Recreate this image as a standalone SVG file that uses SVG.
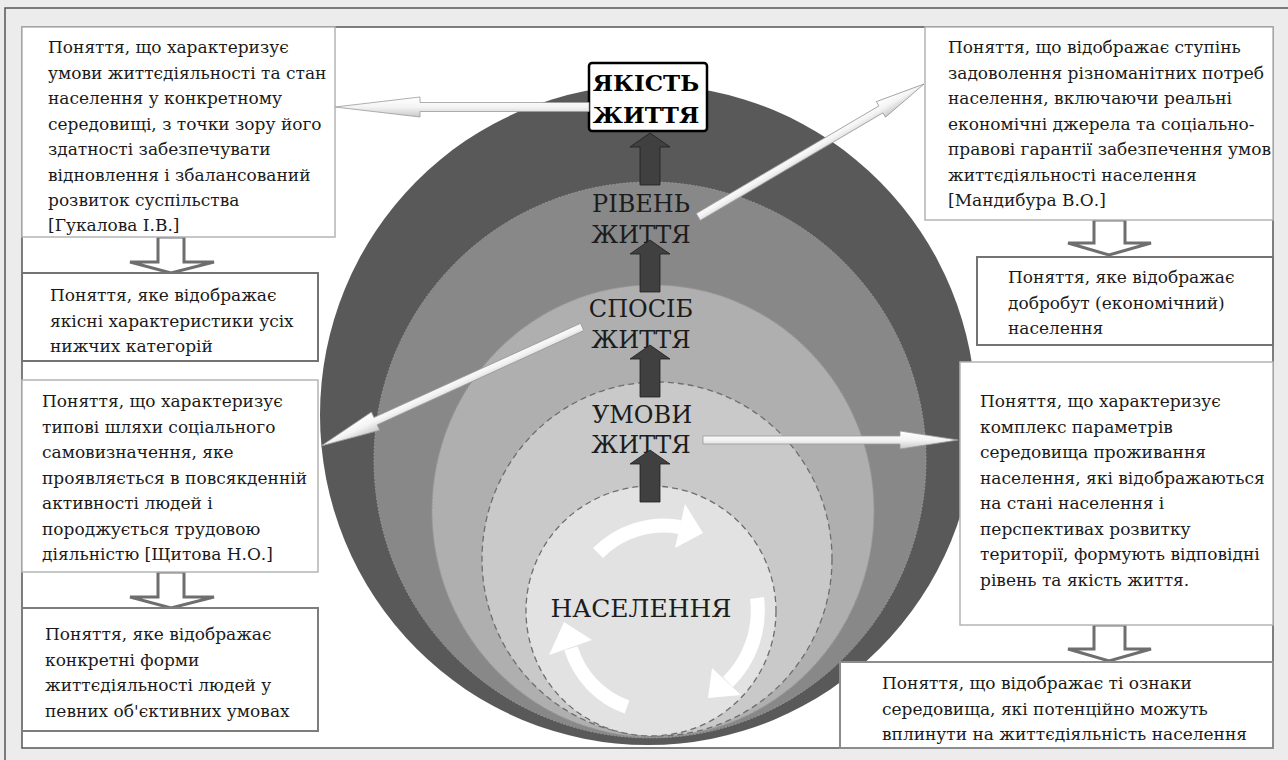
<svg xmlns="http://www.w3.org/2000/svg" width="1288" height="760" viewBox="0 0 1288 760">
<style>
.t{font-family:"DejaVu Serif","Liberation Serif",serif;font-size:17px;fill:#1a1a1a}
.lbl{font-family:"DejaVu Serif","Liberation Serif",serif;font-size:24px;fill:#1c1c1c;text-anchor:middle}
.boxL{fill:#fff;stroke:#b4b4b4;stroke-width:1.5}
.boxD{fill:#fff;stroke:#737373;stroke-width:2}
.down{fill:#fff;stroke:#6e6e6e;stroke-width:3;stroke-linejoin:miter}
.up{fill:#404040;stroke:#1e1e1e;stroke-width:0.8}
.wa{fill:url(#wg);stroke:#9a9a9a;stroke-width:0.8}
.cyc{fill:none;stroke:#fff;stroke-width:14}
</style>
<defs>
<linearGradient id="wg" x1="0" y1="0" x2="0" y2="1">
<stop offset="0" stop-color="#ffffff"/>
<stop offset="0.5" stop-color="#f4f4f4"/>
<stop offset="1" stop-color="#c8c8c8"/>
</linearGradient>
</defs>
<rect x="0" y="0" width="1288" height="760" fill="#ececec"/>
<path d="M5 760 V8 H1288" fill="none" stroke="#555" stroke-width="1.5"/>
<rect id="frame" x="22" y="27" width="1251" height="721" fill="#fff" stroke="#555" stroke-width="1.5"/>

<g id="circles">
<ellipse cx="648" cy="415" rx="328" ry="330" fill="#595959"/>
<ellipse cx="650" cy="460" rx="276" ry="278" fill="#888888" stroke="#9a9a9a" stroke-width="1" stroke-dasharray="2,1.5"/>
<ellipse cx="653" cy="511" rx="221" ry="226" fill="#afafaf" stroke="#999" stroke-width="1.2" stroke-dasharray="2,1.5"/>
<ellipse cx="657" cy="559" rx="175" ry="177" fill="#c9c9c9" stroke="#6e6e6e" stroke-width="1.3" stroke-dasharray="6,4"/>
<ellipse cx="651" cy="611" rx="125" ry="125" fill="#e2e2e2" stroke="#6e6e6e" stroke-width="1.3" stroke-dasharray="6,4"/>
</g>

<g id="cycle">
<path class="cyc" d="M598 553 A92 92 0 0 1 680 527"/>
<polygon points="675,548 685,504 703,533" fill="#fff"/>
<path class="cyc" d="M757 598 A100 100 0 0 1 728 682"/>
<polygon points="712,668 741,695 708,698" fill="#fff"/>
<path class="cyc" d="M627 707 A90 90 0 0 1 571 648.3"/>
<polygon points="592,640 549,655 564,622" fill="#fff"/>
</g>

<g id="levels">
<text class="lbl" x="641" y="212">РІВЕНЬ</text>
<text class="lbl" x="641" y="243">ЖИТТЯ</text>
<text class="lbl" x="641" y="317">СПОСІБ</text>
<text class="lbl" x="641" y="348">ЖИТТЯ</text>
<text class="lbl" x="642" y="423">УМОВИ</text>
<text class="lbl" x="641" y="453">ЖИТТЯ</text>
<text class="lbl" x="641" y="617" style="font-size:25px">НАСЕЛЕННЯ</text>
</g>

<g id="quality">
<rect x="589" y="63" width="118" height="68" rx="3" fill="#fff" stroke="#000" stroke-width="2.5"/>
<text class="lbl" x="646" y="91" style="font-weight:bold;fill:#000;font-size:23px">ЯКІСТЬ</text>
<text class="lbl" x="646" y="123" style="font-weight:bold;fill:#000;font-size:23px">ЖИТТЯ</text>
</g>

<g id="connectors">
<polygon class="up" points="650,133 670,147 660,147 660,185 640,185 640,147 630,147"/>
<polygon class="up" points="650,240 670,254 660,254 660,292 640,292 640,254 630,254"/>
<polygon class="up" points="650,345 670,359 660,359 660,397 640,397 640,359 630,359"/>
<polygon class="up" points="650,450 670,464 660,464 660,502 640,502 640,464 630,464"/>
<polygon class="wa" transform="translate(335,107) scale(-1,1)" points="0,0 -85,-10 -85,-4.5 -254,-4.5 -254,4.5 -85,4.5 -85,10"/>
<polygon class="wa" transform="translate(924,84) rotate(-30.5)" points="0,0 -50,-9 -50,-4 -262,-4 -262,4 -50,4 -50,9"/>
<polygon class="wa" transform="translate(321,446) scale(-1,1) rotate(24.5)" points="0,0 -60,-10 -60,-4 -287,-4 -287,4 -60,4 -60,10"/>
<polygon class="wa" transform="translate(958,440)" points="0,0 -58,-9 -58,-4 -255,-4 -255,4 -58,4 -58,9"/>
<polygon class="down" points="158,237 184,237 184,262 214,262 171,273 130,262 158,262"/>
<polygon class="down" points="158,572 184,572 184,597 214,597 171,608 130,597 158,597"/>
<polygon class="down" points="1094,220 1125,220 1125,243 1151,243 1109,255 1068,243 1094,243"/>
<polygon class="down" points="1094,625 1125,625 1125,649 1151,649 1109,661 1068,649 1094,649"/>
</g>

<g id="boxA">
<rect class="boxL" x="22" y="27" width="313" height="210"/>
<text class="t" x="48" y="53">Поняття, що характеризує</text>
<text class="t" x="48" y="78.5">умови життєдіяльності та стан</text>
<text class="t" x="48" y="104">населення у конкретному</text>
<text class="t" x="48" y="129.5">середовищі, з точки зору його</text>
<text class="t" x="48" y="155">здатності забезпечувати</text>
<text class="t" x="48" y="180.5">відновлення і збалансований</text>
<text class="t" x="48" y="206">розвиток суспільства</text>
<text class="t" x="48" y="231">[Гукалова І.В.]</text>
</g>
<g id="boxB">
<rect class="boxD" x="22" y="273" width="296" height="88"/>
<text class="t" x="50" y="301">Поняття, яке відображає</text>
<text class="t" x="50" y="326.5">якісні характеристики усіх</text>
<text class="t" x="50" y="352">нижчих категорій</text>
</g>
<g id="boxC">
<rect class="boxL" x="22" y="380" width="296" height="192"/>
<text class="t" x="42" y="407">Поняття, що характеризує</text>
<text class="t" x="42" y="432.5">типові шляхи соціального</text>
<text class="t" x="42" y="458">самовизначення, яке</text>
<text class="t" x="42" y="483.5">проявляється в повсякденній</text>
<text class="t" x="42" y="509">активності людей і</text>
<text class="t" x="42" y="534.5">породжується трудовою</text>
<text class="t" x="42" y="560">діяльністю [Щитова Н.О.]</text>
</g>
<g id="boxD">
<rect class="boxD" x="22" y="608" width="296" height="123" style="stroke:#7d7d7d"/>
<text class="t" x="45" y="640">Поняття, яке відображає</text>
<text class="t" x="45" y="665.5">конкретні форми</text>
<text class="t" x="45" y="691">життєдіяльності людей у</text>
<text class="t" x="45" y="716.5">певних об'єктивних умовах</text>
</g>
<g id="boxE">
<rect class="boxL" x="925" y="27" width="348" height="193"/>
<text class="t" x="948" y="53">Поняття, що відображає ступінь</text>
<text class="t" x="948" y="78.5">задоволення різноманітних потреб</text>
<text class="t" x="948" y="104">населення, включаючи реальні</text>
<text class="t" x="948" y="129.5">економічні джерела та соціально-</text>
<text class="t" x="948" y="155">правові гарантії забезпечення умов</text>
<text class="t" x="948" y="180.5">життєдіяльності населення</text>
<text class="t" x="948" y="206">[Мандибура В.О.]</text>
</g>
<g id="boxF">
<rect class="boxD" x="977" y="257" width="296" height="88"/>
<text class="t" x="1008" y="283">Поняття, яке відображає</text>
<text class="t" x="1008" y="308.5">добробут (економічний)</text>
<text class="t" x="1008" y="334">населення</text>
</g>
<g id="boxG">
<rect class="boxL" x="960" y="362" width="313" height="263"/>
<text class="t" x="980" y="407">Поняття, що характеризує</text>
<text class="t" x="980" y="432.5">комплекс параметрів</text>
<text class="t" x="980" y="458">середовища проживання</text>
<text class="t" x="980" y="483.5">населення, які відображаються</text>
<text class="t" x="980" y="509">на стані населення і</text>
<text class="t" x="980" y="534.5">перспективах розвитку</text>
<text class="t" x="980" y="560">території, формують відповідні</text>
<text class="t" x="980" y="585.5">рівень та якість життя.</text>
</g>
<g id="boxH">
<rect class="boxD" x="840" y="662" width="433" height="86" style="stroke:#8c8c8c"/>
<text class="t" x="882" y="689">Поняття, що відображає ті ознаки</text>
<text class="t" x="882" y="714.5">середовища, які потенційно можуть</text>
<text class="t" x="882" y="740">вплинути на життєдіяльність населення</text>
</g>
</svg>
